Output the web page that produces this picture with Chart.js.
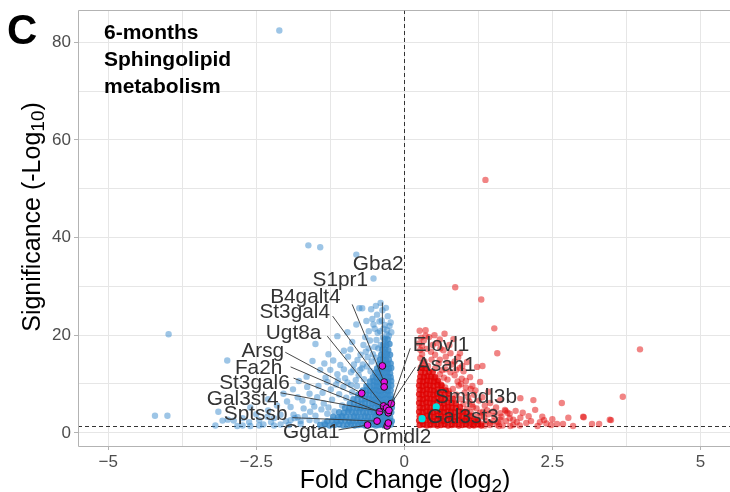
<!DOCTYPE html>
<html>
<head>
<meta charset="utf-8">
<script src="https://cdn.jsdelivr.net/npm/chart.js@4"></script>
<style>
  html, body { margin: 0; padding: 0; background: #fff; overflow: hidden; }
  #volcano { display: block; }
</style>
</head>
<body>
<canvas id="volcano" width="730" height="492"></canvas>
<script>
// axis ticks (minor ones carry an empty label)
const xTicks = [-5, -3.75, -2.5, -1.25, 0, 1.25, 2.5, 3.75, 5]
const xTickLabels = ['−5', '', '−2.5', '', '0', '', '2.5', '', '5']
const yTicks = [0, 10, 20, 30, 40, 50, 60, 70, 80]
const yTickLabels = ['0', '', '20', '', '40', '', '60', '', '80']

// cut-offs: log2 fold change 0, p = 0.05
const fcCutoff = 0
const sigCutoff = 1.3

// down-regulated genes, [log2 fold change, -log10 p]
const downScatter = [
  [-2.11, 82.4], [-3.98, 20.2], [-4.21, 3.5], [-4.0, 3.5], [-2.99, 14.8], [-3.14, 4.3], [-3.07, 2.5], [-3.19, 1.5],
  [-2.88, 2.5], [-2.73, 3.0], [-2.98, 2.7], [-2.82, 1.4], [-2.73, 1.5], [-2.6, 1.4], [-2.45, 1.5], [-2.38, 1.7],
  [-2.2, 1.5], [-2.09, 1.7], [-2.04, 8.0], [-1.87, 3.7], [-1.8, 3.2], [-1.92, 2.6],
  [-1.62, 38.4], [-1.42, 38.0], [-0.81, 36.5], [-0.52, 31.6], [-0.76, 25.5], [-0.71, 25.5], [-0.56, 25.3], [-0.37, 25.1],
  [-0.81, 22.2], [-0.54, 23.3], [-0.52, 22.2], [-1.13, 19.8], [-0.96, 20.6], [-1.5, 18.2], [-1.28, 16.1], [-1.55, 14.7],
  [-1.08, 13.9], [-0.91, 17.1], [-0.69, 18.0], [-1.13, 12.0], [-0.79, 14.9], [-0.62, 15.5], [-1.3, 10.4], [-1.64, 9.4],
  [-1.8, 7.3], [-1.47, 7.3], [-1.03, 9.4], [-1.92, 5.3], [-2.09, 3.7], [-1.59, 4.3], [-2.31, 3.3], [-1.25, 12.9], [-1.42, 12.9],
  [-1.55, 6.3], [-1.38, 8.2], [-1.22, 6.8], [-1.15, 9.9], [-1.4, 4.8], [-1.7, 5.0], [-1.85, 3.0], [-2.0, 2.4],
  [-2.25, 2.2], [-1.95, 1.6], [-1.75, 1.8], [-1.6, 2.6], [-1.5, 3.5], [-1.35, 2.0], [-1.3, 3.9], [-1.0, 11.2],
  [-0.9, 12.4], [-0.82, 10.8], [-0.75, 12.9], [-0.7, 14.0], [-0.65, 16.6], [-0.58, 18.9], [-0.5, 17.6], [-0.45, 20.5],
  [-0.42, 22.8], [-0.35, 21.3], [-0.3, 20.2], [-0.28, 23.9], [-0.25, 21.9], [-0.6, 20.8], [-0.9, 9.8], [-1.1, 7.9],
  [-1.05, 5.6], [-0.47, 19.0], [-0.4, 18.0], [-0.55, 14.6], [-0.85, 14.0], [-0.95, 15.6], [-1.2, 14.8], [-1.65, 11.5], [-1.75, 2.4],
  [-2.45, 2.6], [-2.3, 4.6], [-2.15, 5.6], [-2.2, 3.0], [-2.5, 3.8], [-2.62, 2.2], [-1.98, 6.4], [-1.88, 8.9],
  [-1.72, 6.6], [-1.68, 3.4], [-1.52, 5.4], [-1.45, 9.6], [-1.36, 6.0], [-1.33, 11.3], [-1.24, 8.9], [-1.18, 4.4],
  [-1.12, 10.8], [-1.07, 3.2], [-1.02, 13.0], [-0.98, 7.2], [-0.96, 10.3], [-0.93, 4.6], [-0.88, 8.3], [-0.86, 12.9],
  [-0.8, 9.6], [-0.77, 11.8], [-0.74, 16.0], [-0.72, 13.2], [-0.68, 11.0], [-0.66, 19.6], [-0.63, 13.6], [-0.6, 17.3],
  [-0.57, 12.6], [-0.53, 16.1], [-0.5, 21.3], [-0.48, 15.4], [-0.46, 24.2], [-0.44, 17.3], [-0.41, 20.8], [-0.38, 23.0],
  [-0.36, 19.5], [-0.33, 22.1], [-0.31, 25.6], [-0.29, 21.0], [-0.26, 19.9], [-0.23, 22.6], [-0.22, 20.6], [-0.4, 26.6],
  [-0.48, 26.0], [-0.64, 22.9], [-0.88, 18.6], [-1.02, 16.8], [-1.35, 14.2], [-1.6, 8.0], [-1.78, 10.6], [-2.3, 6.9],
  [-2.6, 5.2], [-1.15, 2.6], [-1.28, 5.2], [-1.48, 2.5]
]

// the crowded part of the down-regulated cloud
const downCore = [
  [-1.42, 1.6], [-1.34, 1.7], [-1.26, 1.5], [-1.18, 1.6], [-1.1, 1.7], [-1.03, 1.5], [-0.96, 1.6], [-0.9, 1.7], [-0.84, 1.5], [-0.78, 1.6],
  [-0.72, 1.7], [-0.66, 1.5], [-0.6, 1.6], [-0.54, 1.7], [-0.48, 1.5], [-0.43, 1.6], [-0.38, 1.7], [-0.33, 1.5], [-0.28, 1.6], [-0.23, 1.7],
  [-1.3, 2.4], [-1.22, 2.5], [-1.14, 2.3], [-1.07, 2.4], [-1.0, 2.5], [-0.93, 2.3], [-0.87, 2.4], [-0.81, 2.5], [-0.75, 2.3], [-0.69, 2.4],
  [-0.63, 2.5], [-0.57, 2.3], [-0.51, 2.4], [-0.45, 2.5], [-0.4, 2.3], [-0.35, 2.4], [-0.3, 2.5], [-0.25, 2.3], [-0.21, 2.4],
  [-1.2, 3.3], [-1.12, 3.2], [-1.05, 3.4], [-0.98, 3.3], [-0.91, 3.2], [-0.85, 3.4], [-0.79, 3.3], [-0.73, 3.2], [-0.67, 3.4], [-0.61, 3.3],
  [-0.55, 3.2], [-0.49, 3.4], [-0.44, 3.3], [-0.39, 3.2], [-0.34, 3.4], [-0.29, 3.3], [-0.24, 3.2],
  [-1.1, 4.2], [-1.02, 4.1], [-0.95, 4.3], [-0.88, 4.2], [-0.82, 4.1], [-0.76, 4.3], [-0.7, 4.2], [-0.64, 4.1], [-0.58, 4.3], [-0.52, 4.2],
  [-0.47, 4.1], [-0.42, 4.3], [-0.37, 4.2], [-0.32, 4.1], [-0.27, 4.3], [-0.22, 4.2],
  [-1.0, 5.1], [-0.93, 5.0], [-0.86, 5.2], [-0.8, 5.1], [-0.74, 5.0], [-0.68, 5.2], [-0.62, 5.1], [-0.56, 5.0], [-0.5, 5.2], [-0.45, 5.1],
  [-0.4, 5.0], [-0.35, 5.2], [-0.3, 5.1], [-0.25, 5.0], [-0.21, 5.2],
  [-0.92, 6.0], [-0.85, 6.1], [-0.78, 5.9], [-0.72, 6.0], [-0.66, 6.1], [-0.6, 5.9], [-0.54, 6.0], [-0.49, 6.1], [-0.44, 5.9], [-0.39, 6.0],
  [-0.34, 6.1], [-0.29, 5.9], [-0.24, 6.0],
  [-0.86, 6.9], [-0.79, 7.0], [-0.72, 6.8], [-0.66, 6.9], [-0.6, 7.0], [-0.55, 6.8], [-0.5, 6.9], [-0.45, 7.0], [-0.4, 6.8], [-0.35, 6.9],
  [-0.3, 7.0], [-0.25, 6.8], [-0.21, 6.9],
  [-0.78, 7.8], [-0.71, 7.7], [-0.65, 7.9], [-0.59, 7.8], [-0.53, 7.7], [-0.48, 7.9], [-0.43, 7.8], [-0.38, 7.7], [-0.33, 7.9], [-0.28, 7.8], [-0.23, 7.7],
  [-0.7, 8.7], [-0.64, 8.8], [-0.58, 8.6], [-0.53, 8.7], [-0.48, 8.8], [-0.43, 8.6], [-0.38, 8.7], [-0.33, 8.8], [-0.28, 8.6], [-0.23, 8.7],
  [-0.64, 9.6], [-0.58, 9.5], [-0.52, 9.7], [-0.47, 9.6], [-0.42, 9.5], [-0.37, 9.7], [-0.32, 9.6], [-0.27, 9.5], [-0.22, 9.7],
  [-0.58, 10.5], [-0.52, 10.6], [-0.47, 10.4], [-0.42, 10.5], [-0.37, 10.6], [-0.32, 10.4], [-0.27, 10.5], [-0.22, 10.6],
  [-0.53, 11.4], [-0.47, 11.3], [-0.42, 11.5], [-0.37, 11.4], [-0.32, 11.3], [-0.27, 11.5], [-0.23, 11.4],
  [-0.49, 12.3], [-0.44, 12.4], [-0.39, 12.2], [-0.34, 12.3], [-0.29, 12.4], [-0.24, 12.2],
  [-0.46, 13.2], [-0.41, 13.1], [-0.36, 13.3], [-0.31, 13.2], [-0.26, 13.1], [-0.22, 13.3],
  [-0.43, 14.1], [-0.38, 14.2], [-0.33, 14.0], [-0.28, 14.1], [-0.23, 14.2],
  [-0.41, 15.0], [-0.36, 15.1], [-0.31, 14.9], [-0.26, 15.0],
  [-0.39, 16.0], [-0.34, 15.9], [-0.29, 16.1], [-0.24, 16.0],
  [-0.37, 17.0], [-0.32, 17.1], [-0.27, 16.9],
  [-0.35, 18.1], [-0.3, 18.0], [-0.25, 18.2],
  [-0.33, 19.2], [-0.28, 19.1]
]

// up-regulated genes
const upScatter = [
  [1.37, 51.8], [0.86, 29.8], [1.30, 27.3], [1.52, 21.4], [0.51, 20.0], [0.83, 19.2], [3.98, 17.1], [1.57, 16.3],
  [1.32, 13.7], [3.69, 7.4], [2.66, 6.1], [2.18, 6.7], [2.21, 4.7], [2.33, 3.3], [1.96, 7.1], [1.70, 4.7],
  [2.77, 3.1], [3.02, 3.3], [3.03, 3.2], [3.47, 2.7], [3.49, 2.6], [3.17, 1.8], [3.29, 1.8], [2.85, 1.4],
  [2.58, 1.8], [2.68, 1.8], [2.48, 1.6], [1.71, 4.5], [1.78, 3.9], [1.96, 3.1], [2.06, 2.0], [2.14, 2.4],
  [1.84, 1.6], [2.29, 2.2], [2.25, 1.4], [2.4, 1.9],
  [0.61, 17.3], [0.78, 16.3], [0.91, 15.5], [1.06, 14.5], [0.73, 14.3], [0.94, 13.3], [1.23, 13.5], [1.11, 11.4],
  [1.28, 10.4], [1.32, 7.3], [1.45, 6.1], [1.62, 6.7], [1.16, 5.3], [1.33, 4.3], [1.74, 4.1], [1.84, 2.7],
  [1.62, 2.7], [1.45, 2.0], [1.79, 1.4], [0.66, 16.9], [0.94, 16.3],
  [0.28, 13.4], [0.34, 14.6], [0.4, 13.7], [0.46, 15.0], [0.52, 13.2], [0.58, 14.2], [0.64, 12.8], [0.7, 13.0],
  [0.3, 16.1], [0.38, 17.2], [0.45, 16.6], [0.55, 18.4], [0.6, 12.0], [0.67, 11.3], [0.73, 10.9], [0.78, 12.4],
  [0.85, 11.8], [0.33, 18.9], [0.42, 19.6], [0.27, 15.3], [0.5, 11.3], [0.55, 10.4], [0.62, 9.9], [0.69, 9.3],
  [0.75, 8.6], [0.82, 9.0], [0.88, 7.8], [0.95, 6.9], [1.0, 5.9], [1.06, 4.9], [1.12, 4.2], [1.2, 3.3],
  [1.25, 2.6], [1.3, 1.8], [1.38, 2.4], [1.45, 1.6], [1.52, 3.4], [1.58, 2.2], [1.66, 1.5], [1.1, 6.4],
  [1.02, 8.2], [0.92, 9.7], [0.97, 11.1], [1.2, 8.7], [1.4, 4.6], [1.12, 2.0], [1.18, 1.5], [1.05, 3.0],
  [0.9, 10.5], [1.0, 12.6], [1.15, 9.6], [0.85, 14.6], [1.55, 5.2], [1.9, 2.2], [2.0, 4.1],
  [0.3, 17.8], [0.36, 19.9], [0.48, 18.0], [0.6, 19.1], [0.7, 15.6], [0.8, 14.0], [0.88, 12.9], [0.96, 10.0],
  [1.04, 9.3], [1.08, 7.3], [1.14, 5.8], [1.22, 5.0], [1.28, 4.1], [1.35, 3.2], [1.42, 3.8], [1.5, 2.4],
  [1.56, 1.7], [1.64, 3.3], [1.72, 2.4], [1.78, 3.0], [1.88, 4.5], [1.95, 1.5], [2.1, 3.4], [2.36, 2.6],
  [2.5, 2.8], [1.36, 5.6], [1.26, 6.6], [1.18, 7.8], [1.12, 9.0], [1.04, 10.6], [0.98, 13.7], [0.76, 18.0],
  [0.68, 20.3], [0.36, 21.0], [0.25, 18.3], [0.26, 20.9], [0.52, 16.0], [0.6, 15.0], [1.42, 8.4], [1.5, 4.4],
  [1.62, 4.0], [1.2, 2.3], [1.3, 3.5], [1.36, 1.5], [1.6, 1.4], [0.27, 17.0], [0.28, 19.5], [0.31, 14.3]
]

// the crowded part of the up-regulated cloud
const upCore = [
  [0.26, 1.6], [0.32, 1.7], [0.38, 1.5], [0.44, 1.6], [0.5, 1.7], [0.56, 1.5], [0.62, 1.6], [0.68, 1.7], [0.74, 1.5], [0.8, 1.6],
  [0.86, 1.7], [0.92, 1.5], [0.98, 1.6], [1.04, 1.7], [1.1, 1.5], [1.17, 1.6], [1.24, 1.7], [1.3, 1.5],
  [0.25, 2.5], [0.31, 2.4], [0.37, 2.6], [0.43, 2.5], [0.49, 2.4], [0.55, 2.6], [0.61, 2.5], [0.67, 2.4], [0.73, 2.6], [0.79, 2.5],
  [0.85, 2.4], [0.91, 2.6], [0.97, 2.5], [1.03, 2.4], [1.1, 2.6], [1.17, 2.5], [1.24, 2.4],
  [0.26, 3.4], [0.32, 3.3], [0.38, 3.5], [0.44, 3.4], [0.5, 3.3], [0.56, 3.5], [0.62, 3.4], [0.68, 3.3], [0.74, 3.5], [0.8, 3.4],
  [0.86, 3.3], [0.92, 3.5], [0.98, 3.4], [1.05, 3.3], [1.12, 3.5],
  [0.25, 4.3], [0.31, 4.2], [0.37, 4.4], [0.43, 4.3], [0.49, 4.2], [0.55, 4.4], [0.61, 4.3], [0.67, 4.2], [0.73, 4.4], [0.79, 4.3],
  [0.85, 4.2], [0.92, 4.4], [0.99, 4.3], [1.05, 4.2],
  [0.26, 5.2], [0.32, 5.1], [0.38, 5.3], [0.44, 5.2], [0.5, 5.1], [0.56, 5.3], [0.62, 5.2], [0.68, 5.1], [0.74, 5.3], [0.8, 5.2],
  [0.87, 5.1], [0.94, 5.3],
  [0.25, 6.1], [0.31, 6.0], [0.37, 6.2], [0.43, 6.1], [0.49, 6.0], [0.55, 6.2], [0.61, 6.1], [0.67, 6.0], [0.73, 6.2], [0.8, 6.1], [0.87, 6.0],
  [0.26, 7.0], [0.32, 6.9], [0.38, 7.1], [0.44, 7.0], [0.5, 6.9], [0.56, 7.1], [0.62, 7.0], [0.68, 6.9], [0.75, 7.1], [0.82, 7.0],
  [0.25, 7.9], [0.31, 7.8], [0.37, 8.0], [0.43, 7.9], [0.49, 7.8], [0.55, 8.0], [0.61, 7.9], [0.68, 7.8], [0.75, 8.0],
  [0.26, 8.8], [0.32, 8.7], [0.38, 8.9], [0.44, 8.8], [0.5, 8.7], [0.56, 8.9], [0.63, 8.8], [0.7, 8.7],
  [0.25, 9.7], [0.31, 9.6], [0.37, 9.8], [0.43, 9.7], [0.49, 9.6], [0.56, 9.8], [0.63, 9.7],
  [0.26, 10.6], [0.32, 10.5], [0.38, 10.7], [0.44, 10.6], [0.5, 10.5], [0.57, 10.7],
  [0.27, 11.5], [0.33, 11.4], [0.39, 11.6], [0.45, 11.5], [0.52, 11.4],
  [0.28, 12.4], [0.35, 12.3], [0.42, 12.5], [0.48, 12.4],
  [0.3, 13.3], [0.36, 13.2]
]

// sphingolipid metabolism genes
const sphingoDownGenes = ['Gba2', 'S1pr1', 'B4galt4', 'St3gal4', 'Ugt8a', 'Arsg', 'Fa2h', 'St3gal6', 'Gal3st4', 'Sptssb', 'Ggta1', 'Ormdl2', 'Elovl1', 'Asah1']
const sphingoDownFc = [-0.29, -0.37, -0.34, -0.34, -0.35, -0.72, -0.30, -0.42, -0.27, -0.46, -0.62, -0.27, -0.26, -0.22]
const sphingoDownSig = [1.4, 13.7, 10.4, 9.4, 5.5, 8.1, 5.1, 4.3, 4.1, 2.4, 1.6, 2.0, 4.6, 6.0]
const sphingoUpGenes = ['Smpdl3b', 'Gal3st3']
const sphingoUpFc = [0.54, 0.30]
const sphingoUpSig = [5.3, 2.9]

// where each gene label sits and where its leader line starts (data units)
const labelLayout = [
  { gene: 'Gba2', at: [-0.44, 34.5], from: null },
  { gene: 'S1pr1', at: [-1.08, 31.2], from: [-0.37, 26.7] },
  { gene: 'B4galt4', at: [-1.67, 27.8], from: [-0.88, 26.3] },
  { gene: 'St3gal4', at: [-1.85, 24.7], from: [-1.21, 23.9] },
  { gene: 'Ugt8a', at: [-1.87, 20.4], from: [-1.30, 19.8] },
  { gene: 'Arsg', at: [-2.39, 16.7], from: [-2.01, 16.5] },
  { gene: 'Fa2h', at: [-2.46, 13.3], from: [-1.92, 13.5] },
  { gene: 'St3gal6', at: [-2.53, 10.2], from: [-1.87, 11.2] },
  { gene: 'Gal3st4', at: [-2.73, 6.9], from: [-2.09, 8.2] },
  { gene: 'Sptssb', at: [-2.51, 3.7], from: [-1.89, 3.1] },
  { gene: 'Ggta1', at: [-1.57, 0.2], from: [-1.11, 0.6] },
  { gene: 'Ormdl2', at: [-0.12, -1.0], from: [-0.37, 1.0] },
  { gene: 'Elovl1', at: [0.62, 18.0], from: [0.10, 17.3] },
  { gene: 'Asah1', at: [0.71, 13.9], from: [0.19, 13.5] },
  { gene: 'Smpdl3b', at: [1.21, 7.3], from: null },
  { gene: 'Gal3st3', at: [0.99, 3.1], from: null }
]

// panel box in canvas pixels
const PANEL = { left: 78, right: 730, top: 10, bottom: 446 }

const FONT = '"Liberation Sans", Arial, Helvetica, sans-serif'

const toPoints = (pairs) => pairs.map(([fc, sig]) => ({ x: fc, y: sig }))
const zipPoints = (fc, sig) => fc.map((v, i) => ({ x: v, y: sig[i] }))

const genePos = (gene) => {
  let i = sphingoDownGenes.indexOf(gene)
  if (i >= 0) return [sphingoDownFc[i], sphingoDownSig[i]]
  i = sphingoUpGenes.indexOf(gene)
  return [sphingoUpFc[i], sphingoUpSig[i]]
}

const overlay = {
  id: 'overlay',
  afterLayout(chart) {
    // pin the panel so the axes land where the figure has them
    const { chartArea: a, scales: { x, y }, height } = chart
    const w = PANEL.right - PANEL.left, h = PANEL.bottom - PANEL.top
    Object.assign(a, { left: PANEL.left, right: PANEL.right, top: PANEL.top, bottom: PANEL.bottom, width: w, height: h })
    Object.assign(x, { left: PANEL.left, right: PANEL.right, width: w, top: PANEL.bottom, bottom: height, height: height - PANEL.bottom })
    Object.assign(y, { left: 0, right: PANEL.left, width: PANEL.left, top: PANEL.top, bottom: PANEL.bottom, height: h })
    x.configure()
    y.configure()
  },
  beforeDatasetsDraw(chart) {
    const { ctx, chartArea: a, scales: { x, y } } = chart
    ctx.save()
    ctx.strokeStyle = '#333'
    ctx.lineWidth = 1
    ctx.setLineDash([4, 3])
    const vx = Math.round(x.getPixelForValue(fcCutoff)) + 0.5
    ctx.beginPath()
    ctx.moveTo(vx, a.top)
    ctx.lineTo(vx, a.bottom)
    ctx.stroke()
    const hy = Math.round(y.getPixelForValue(sigCutoff)) + 0.5
    ctx.beginPath()
    ctx.moveTo(a.left, hy)
    ctx.lineTo(a.right, hy)
    ctx.stroke()
    ctx.restore()
  },
  afterDatasetsDraw(chart) {
    const { ctx, scales: { x, y } } = chart
    ctx.save()
    // leader lines
    ctx.strokeStyle = '#333'
    ctx.lineWidth = 0.9
    labelLayout.forEach((lab) => {
      if (!lab.from) return
      const [fc, sig] = genePos(lab.gene)
      const x1 = x.getPixelForValue(lab.from[0]), y1 = y.getPixelForValue(lab.from[1])
      const x2 = x.getPixelForValue(fc), y2 = y.getPixelForValue(sig)
      const len = Math.hypot(x2 - x1, y2 - y1)
      const k = (len - 3.5) / len
      ctx.beginPath()
      ctx.moveTo(x1, y1)
      ctx.lineTo(x1 + (x2 - x1) * k, y1 + (y2 - y1) * k)
      ctx.stroke()
    })
    // gene names
    ctx.fillStyle = '#333'
    ctx.font = `20.8px ${FONT}`
    ctx.textAlign = 'center'
    ctx.textBaseline = 'middle'
    labelLayout.forEach((lab) => {
      ctx.fillText(lab.gene, x.getPixelForValue(lab.at[0]), y.getPixelForValue(lab.at[1]))
    })
    ctx.restore()
  },
  afterDraw(chart) {
    const { ctx, chartArea: a } = chart
    ctx.save()
    // panel frame (the right side runs off the canvas)
    ctx.strokeStyle = '#b3b3b3'
    ctx.lineWidth = 1
    ctx.beginPath()
    ctx.moveTo(a.right, a.top + 0.5)
    ctx.lineTo(a.left + 0.5, a.top + 0.5)
    ctx.lineTo(a.left + 0.5, a.bottom + 0.5)
    ctx.lineTo(a.right, a.bottom + 0.5)
    ctx.stroke()

    // panel tag
    ctx.fillStyle = '#000'
    ctx.textAlign = 'left'
    ctx.textBaseline = 'alphabetic'
    ctx.font = `bold 42px ${FONT}`
    ctx.fillText('C', 7, 44)

    // annotation
    ctx.font = `bold 21px ${FONT}`
    ;['6-months', 'Sphingolipid', 'metabolism'].forEach((t, i) => ctx.fillText(t, 104, 39 + i * 27))

    // axis titles with subscripts
    const drawTitle = (main, sub, close, cx, cy) => {
      ctx.font = `25px ${FONT}`
      const w1 = ctx.measureText(main).width
      const w3 = ctx.measureText(close).width
      ctx.font = `19px ${FONT}`
      const w2 = ctx.measureText(sub).width
      const sx = cx - (w1 + w2 + w3) / 2
      ctx.font = `25px ${FONT}`
      ctx.fillText(main, sx, cy)
      ctx.font = `19px ${FONT}`
      ctx.fillText(sub, sx + w1, cy + 4)
      ctx.font = `25px ${FONT}`
      ctx.fillText(close, sx + w1 + w2, cy)
    }
    ctx.fillStyle = '#000'
    drawTitle('Fold Change (log', '2', ')', 405, 488)
    ctx.translate(40, 217)
    ctx.rotate(-Math.PI / 2)
    drawTitle('Significance (-Log', '10', ')', 0, 0)
    ctx.restore()
  }
}

const tickFont = { family: FONT, size: 17 }
const isMajor = (labels, ticks, v) => labels[ticks.indexOf(v)] !== ''

new Chart(document.getElementById('volcano'), {
  type: 'scatter',
  data: {
    datasets: [
      {
        label: 'sphingolipid up',
        data: zipPoints(sphingoUpFc, sphingoUpSig),
        backgroundColor: '#00e1e1',
        borderWidth: 0,
        pointRadius: 3.6,
        order: 0
      },
      {
        label: 'sphingolipid down',
        data: zipPoints(sphingoDownFc, sphingoDownSig),
        backgroundColor: '#e011e0',
        borderColor: '#111',
        borderWidth: 1,
        pointRadius: 3.4,
        order: 1
      },
      {
        label: 'up core',
        data: toPoints(upCore),
        backgroundColor: 'rgba(222, 0, 0, 0.8)',
        borderWidth: 0,
        pointRadius: 3.2,
        order: 2
      },
      {
        label: 'up',
        data: toPoints(upScatter),
        backgroundColor: 'rgba(228, 10, 10, 0.5)',
        borderWidth: 0,
        pointRadius: 3.2,
        order: 3
      },
      {
        label: 'down core',
        data: toPoints(downCore),
        backgroundColor: 'rgba(55, 136, 200, 0.8)',
        borderWidth: 0,
        pointRadius: 3.2,
        order: 4
      },
      {
        label: 'down',
        data: toPoints(downScatter),
        backgroundColor: 'rgba(60, 140, 205, 0.5)',
        borderWidth: 0,
        pointRadius: 3.2,
        order: 5
      }
    ]
  },
  options: {
    responsive: false,
    animation: false,
    devicePixelRatio: 1,
    layout: { padding: { top: 10, right: 0, left: 0, bottom: 0 } },
    plugins: { legend: { display: false }, tooltip: { enabled: false } },
    scales: {
      x: {
        type: 'linear',
        min: -5.51,
        max: 5.5,
        afterBuildTicks: (s) => { s.ticks = xTicks.map((v) => ({ value: v })) },
        afterFit: (s) => { s.height = 46; s.paddingLeft = 0; s.paddingRight = 0 },
        border: { display: false },
        grid: {
          color: '#e6e6e6',
          lineWidth: 1,
          tickLength: 4,
          tickColor: (c) => (c.tick && isMajor(xTickLabels, xTicks, c.tick.value)) ? '#b3b3b3' : 'rgba(0,0,0,0)'
        },
        ticks: {
          autoSkip: false,
          maxRotation: 0,
          padding: 2,
          color: '#4d4d4d',
          font: tickFont,
          callback: (v) => xTickLabels[xTicks.indexOf(v)]
        }
      },
      y: {
        type: 'linear',
        min: -2.7,
        max: 86.6,
        afterBuildTicks: (s) => { s.ticks = yTicks.map((v) => ({ value: v })) },
        afterFit: (s) => { s.width = 78; s.paddingTop = 0; s.paddingBottom = 0 },
        border: { display: false },
        grid: {
          color: '#e6e6e6',
          lineWidth: 1,
          tickLength: 4,
          tickColor: (c) => (c.tick && isMajor(yTickLabels, yTicks, c.tick.value)) ? '#b3b3b3' : 'rgba(0,0,0,0)'
        },
        ticks: {
          autoSkip: false,
          padding: 3,
          color: '#4d4d4d',
          font: tickFont,
          callback: (v) => yTickLabels[yTicks.indexOf(v)]
        }
      }
    }
  },
  plugins: [overlay]
})
</script>
</body>
</html>
